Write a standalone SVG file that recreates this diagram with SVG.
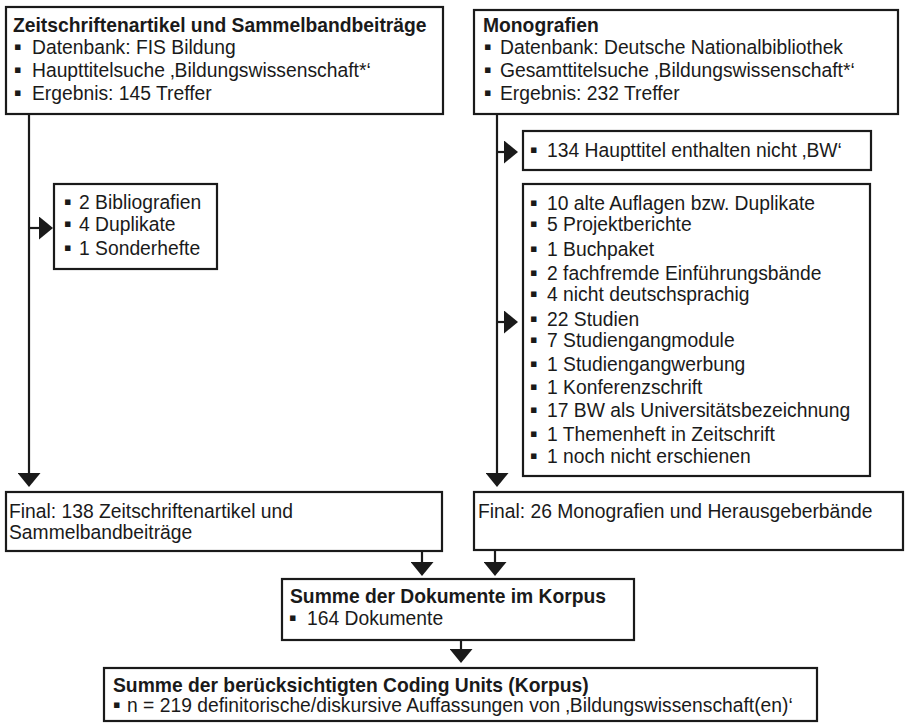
<svg xmlns="http://www.w3.org/2000/svg" width="905" height="728" viewBox="0 0 905 728">
<style>
.box{fill:#fff;stroke:#1a1a1a;stroke-width:2.2}
.t{font-family:"Liberation Sans",Arial,sans-serif;font-size:19.3px;fill:#1a1a1a}
.h{font-weight:bold}
.b{font-family:"DejaVu Sans",sans-serif;font-size:11px}
.c{fill:none;stroke:#1a1a1a;stroke-width:2.2}
</style>
<defs>
<marker id="ah" viewBox="0 0 14 23" refX="8" refY="11.5" markerWidth="14" markerHeight="23" markerUnits="userSpaceOnUse" orient="auto">
<path d="M0,0 L14,11.5 L0,23 Z" fill="#1a1a1a"/>
</marker>
</defs>
<rect width="905" height="728" fill="#fff"/>
<g id="connectors">
<path class="c" d="M29,114 V481" marker-end="url(#ah)"/>
<path class="c" d="M29,228 H47" marker-end="url(#ah)"/>
<path class="c" d="M497,114 V481" marker-end="url(#ah)"/>
<path class="c" d="M497,152 H512" marker-end="url(#ah)"/>
<path class="c" d="M497,322 H512" marker-end="url(#ah)"/>
<path class="c" d="M422,551 V570" marker-end="url(#ah)"/>
<path class="c" d="M495,550 V570" marker-end="url(#ah)"/>
<path class="c" d="M461,640 V657" marker-end="url(#ah)"/>
</g>
<g id="n1">
<rect class="box" x="6" y="7" width="437" height="107"/>
<text class="t h" x="13" y="32">Zeitschriftenartikel und Sammelbandbeiträge</text>
<text class="t" y="54"><tspan class="b" x="14" dy="-4.5">▪</tspan><tspan x="32" dy="4.5">Datenbank: FIS Bildung</tspan></text>
<text class="t" y="77"><tspan class="b" x="14" dy="-4.5">▪</tspan><tspan x="32" dy="4.5">Haupttitelsuche ‚Bildungswissenschaft*‘</tspan></text>
<text class="t" y="100"><tspan class="b" x="14" dy="-4.5">▪</tspan><tspan x="32" dy="4.5">Ergebnis: 145 Treffer</tspan></text>
</g>
<g id="n2">
<rect class="box" x="474" y="10" width="424" height="104"/>
<text class="t h" x="483" y="32">Monografien</text>
<text class="t" y="54"><tspan class="b" x="484" dy="-4.5">▪</tspan><tspan x="500" dy="4.5">Datenbank: Deutsche Nationalbibliothek</tspan></text>
<text class="t" y="77"><tspan class="b" x="484" dy="-4.5">▪</tspan><tspan x="500" dy="4.5">Gesamttitelsuche ‚Bildungswissenschaft*‘</tspan></text>
<text class="t" y="100"><tspan class="b" x="484" dy="-4.5">▪</tspan><tspan x="500" dy="4.5">Ergebnis: 232 Treffer</tspan></text>
</g>
<g id="n3">
<rect class="box" x="54" y="184" width="163" height="85"/>
<text class="t" y="209"><tspan class="b" x="64" dy="-4.5">▪</tspan><tspan x="79" dy="4.5">2 Bibliografien</tspan></text>
<text class="t" y="231"><tspan class="b" x="64" dy="-4.5">▪</tspan><tspan x="79" dy="4.5">4 Duplikate</tspan></text>
<text class="t" y="255"><tspan class="b" x="64" dy="-4.5">▪</tspan><tspan x="79" dy="4.5">1 Sonderhefte</tspan></text>
</g>
<g id="n4">
<rect class="box" x="523" y="131" width="348" height="39"/>
<text class="t" y="157"><tspan class="b" x="530" dy="-4.5">▪</tspan><tspan x="547" dy="4.5">134 Haupttitel enthalten nicht ‚BW‘</tspan></text>
</g>
<g id="n5">
<rect class="box" x="523" y="184" width="347" height="292"/>
<text class="t" y="210"><tspan class="b" x="530" dy="-4.5">▪</tspan><tspan x="547" dy="4.5">10 alte Auflagen bzw. Duplikate</tspan></text>
<text class="t" y="231"><tspan class="b" x="530" dy="-4.5">▪</tspan><tspan x="547" dy="4.5">5 Projektberichte</tspan></text>
<text class="t" y="256"><tspan class="b" x="530" dy="-4.5">▪</tspan><tspan x="547" dy="4.5">1 Buchpaket</tspan></text>
<text class="t" y="280"><tspan class="b" x="530" dy="-4.5">▪</tspan><tspan x="547" dy="4.5">2 fachfremde Einführungsbände</tspan></text>
<text class="t" y="301"><tspan class="b" x="530" dy="-4.5">▪</tspan><tspan x="547" dy="4.5">4 nicht deutschsprachig</tspan></text>
<text class="t" y="326"><tspan class="b" x="530" dy="-4.5">▪</tspan><tspan x="547" dy="4.5">22 Studien</tspan></text>
<text class="t" y="347"><tspan class="b" x="530" dy="-4.5">▪</tspan><tspan x="547" dy="4.5">7 Studiengangmodule</tspan></text>
<text class="t" y="371"><tspan class="b" x="530" dy="-4.5">▪</tspan><tspan x="547" dy="4.5">1 Studiengangwerbung</tspan></text>
<text class="t" y="394"><tspan class="b" x="530" dy="-4.5">▪</tspan><tspan x="547" dy="4.5">1 Konferenzschrift</tspan></text>
<text class="t" y="417"><tspan class="b" x="530" dy="-4.5">▪</tspan><tspan x="547" dy="4.5">17 BW als Universitätsbezeichnung</tspan></text>
<text class="t" y="441"><tspan class="b" x="530" dy="-4.5">▪</tspan><tspan x="547" dy="4.5">1 Themenheft in Zeitschrift</tspan></text>
<text class="t" y="463"><tspan class="b" x="530" dy="-4.5">▪</tspan><tspan x="547" dy="4.5">1 noch nicht erschienen</tspan></text>
</g>
<g id="n6">
<rect class="box" x="6" y="492" width="436" height="59"/>
<text class="t" x="9" y="518">Final: 138 Zeitschriftenartikel und</text>
<text class="t" x="9" y="539">Sammelbandbeiträge</text>
</g>
<g id="n7">
<rect class="box" x="474" y="492" width="429" height="58"/>
<text class="t" x="478" y="518">Final: 26 Monografien und Herausgeberbände</text>
</g>
<g id="n8">
<rect class="box" x="282" y="579" width="352" height="61"/>
<text class="t h" x="290" y="603">Summe der Dokumente im Korpus</text>
<text class="t" y="625"><tspan class="b" x="289" dy="-4.5">▪</tspan><tspan x="307" dy="4.5">164 Dokumente</tspan></text>
</g>
<g id="n9">
<rect class="box" x="104" y="668" width="713" height="53"/>
<text class="t h" x="113" y="692">Summe der berücksichtigten Coding Units (Korpus)</text>
<text class="t" y="712"><tspan class="b" x="113" dy="-4.5">▪</tspan><tspan x="127" dy="4.5">n = 219 definitorische/diskursive Auffassungen von ‚Bildungswissenschaft(en)‘</tspan></text>
</g>
</svg>
